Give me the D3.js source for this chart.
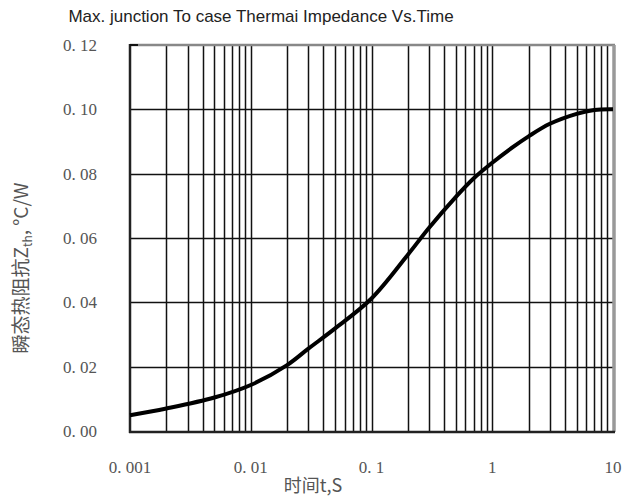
<!DOCTYPE html>
<html><head><meta charset="utf-8">
<script src="https://cdn.jsdelivr.net/npm/d3@7"></script>
<style>body{margin:0;background:#fff} .sf{font-family:"Liberation Serif","DejaVu Serif",serif}</style>
</head><body><svg id="c" width="642" height="500"></svg>
<script>
const times = [0.001, 0.002, 0.005, 0.01, 0.02, 0.03, 0.05, 0.1, 0.2, 0.3, 0.5, 0.7, 1, 1.5, 2, 3, 5, 7, 10];
const zth = [0.0049, 0.0070, 0.0104, 0.0143, 0.0205, 0.0256, 0.0319, 0.0412, 0.0548, 0.0632, 0.0728, 0.0785, 0.0834, 0.0884, 0.0916, 0.0955, 0.0986, 0.0998, 0.1000];
const xTicks = [0.001, 0.01, 0.1, 1, 10];
const xTickLabels = ["0. 001", "0. 01", "0. 1", "1", "10"];
const yTicks = [0, 0.02, 0.04, 0.06, 0.08, 0.10, 0.12];
const yTickLabels = ["0. 00", "0. 02", "0. 04", "0. 06", "0. 08", "0. 10", "0. 12"];

const svg = d3.select("#c");
const L = 130, R = 613, T = 45, B = 431;
const x = d3.scaleLog().domain([0.001, 10]).range([L, R]);
const y = d3.scaleLinear().domain([0, 0.12]).range([B, T]);

const vgrid = [];
for (let d = 0.001; d < 10; d *= 10) for (let k = 1; k <= 9; k++) vgrid.push(+(d * k).toPrecision(3));
const g = svg.append("g");
g.selectAll("line.v").data(vgrid.filter(v => v > 0.001)).join("line")
  .attr("x1", d => Math.round(x(d)) + 0.5).attr("x2", d => Math.round(x(d)) + 0.5)
  .attr("y1", T).attr("y2", B).attr("stroke", "#111").attr("stroke-width", 1.5);
g.selectAll("line.h").data(yTicks.filter(v => v > 0 && v < 0.12)).join("line")
  .attr("x1", L).attr("x2", R)
  .attr("y1", d => Math.round(y(d)) + 0.5).attr("y2", d => Math.round(y(d)) + 0.5)
  .attr("stroke", "#111").attr("stroke-width", 1.5);

// frame
svg.append("line").attr("x1", L).attr("x2", R + 2).attr("y1", T).attr("y2", T).attr("stroke", "#888").attr("stroke-width", 2.5);
svg.append("line").attr("x1", R + 1).attr("x2", R + 1).attr("y1", T).attr("y2", B + 1).attr("stroke", "#999").attr("stroke-width", 3.5);
svg.append("line").attr("x1", L).attr("x2", L).attr("y1", T - 1).attr("y2", B + 2).attr("stroke", "#222").attr("stroke-width", 2.5);
svg.append("line").attr("x1", L - 1).attr("x2", R + 2).attr("y1", B + 1).attr("y2", B + 1).attr("stroke", "#222").attr("stroke-width", 2.5);
svg.append("line").attr("x1", L).attr("x2", L + 8).attr("y1", T).attr("y2", T).attr("stroke", "#111").attr("stroke-width", 2);

// curve
const line = d3.line().x((d, i) => x(times[i])).y(d => y(d)).curve(d3.curveCatmullRom.alpha(0.5));
svg.append("path").datum(zth).attr("d", line).attr("fill", "none").attr("stroke", "#000").attr("stroke-width", 4);

// tick labels
svg.selectAll("text.y").data(yTicks).join("text").attr("class", "sf")
  .attr("x", 97).attr("y", d => y(d)).attr("dy", "0.35em").attr("text-anchor", "end")
  .attr("font-size", 17).attr("fill", "#555")
  .text((d, i) => yTickLabels[i]);
svg.selectAll("text.x").data(xTicks).join("text").attr("class", "sf")
  .attr("x", d => x(d)).attr("y", 467).attr("dy", "0.35em").attr("text-anchor", "middle")
  .attr("font-size", 17).attr("fill", "#555")
  .text((d, i) => xTickLabels[i]);

// title
svg.append("text").attr("x", 261).attr("y", 22).attr("text-anchor", "middle")
  .attr("font-family", "Liberation Sans Narrow, Liberation Sans, Arial, sans-serif").attr("font-size", 17).attr("fill", "#222")
  .text("Max. junction To case Thermai Impedance Vs.Time");

// axis titles
svg.append("text").attr("x", 313).attr("y", 492).attr("text-anchor", "middle")
  .attr("font-family", "Noto Sans CJK SC, sans-serif").attr("font-size", 18).attr("fill", "#555")
  .text("时间t,S");
const yl = svg.append("text").attr("transform", "translate(28,268) rotate(-90)").attr("text-anchor", "middle")
  .attr("font-family", "Noto Sans CJK SC, sans-serif").attr("font-size", 19).attr("fill", "#555");
yl.append("tspan").text("瞬态热阻抗Z");
yl.append("tspan").attr("font-size", 12).attr("dy", 4).text("th");
yl.append("tspan").attr("dy", -4).text(", °C/W");
</script></body></html>
